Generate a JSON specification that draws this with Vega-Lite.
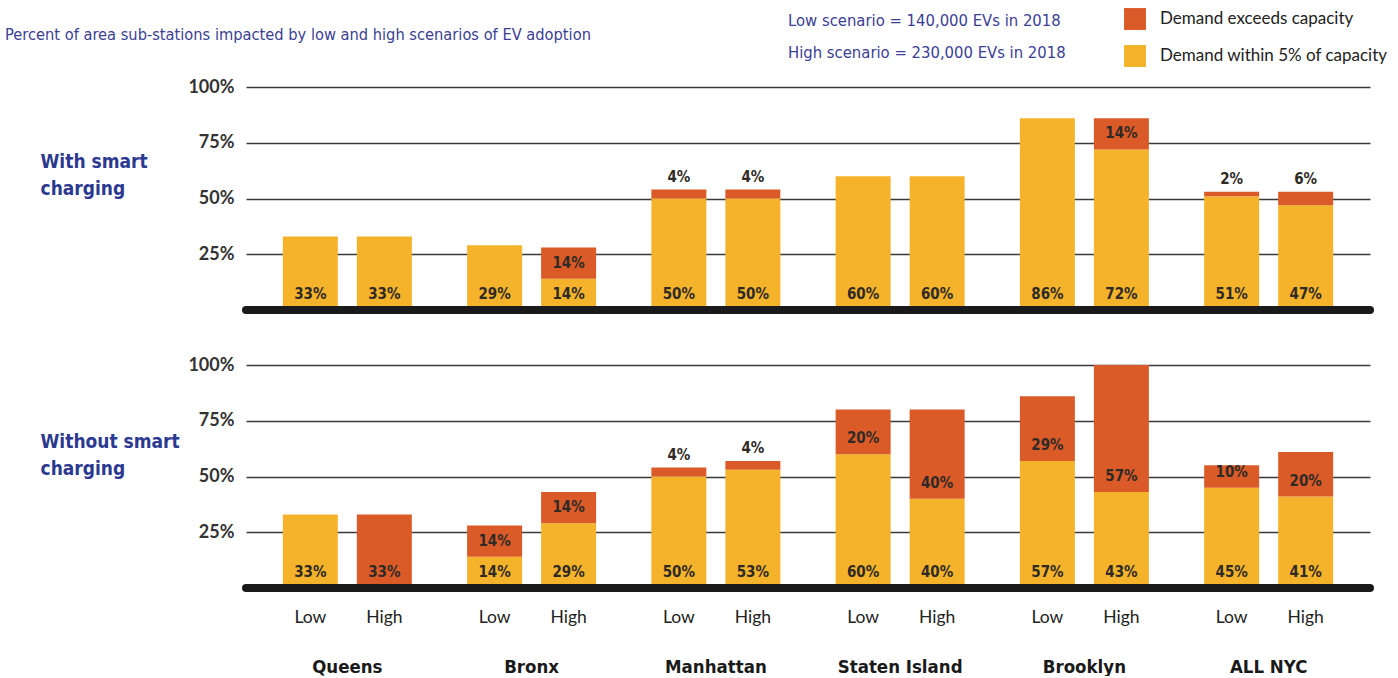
{
  "$schema": "https://vega.github.io/schema/vega-lite/v6.json",
  "padding": {"left": 5, "top": 8, "right": 0, "bottom": 0},
  "autosize": {"type": "pad"},
  "config": {
    "view": {"stroke": null},
    "font": "Lato"
  },
  "bounds": "flush",
  "spacing": 55,
  "datasets": {
    "rows": [
      {"panel": "with", "borough": "Queens", "scenario": "Low", "within": 0.33, "exceeds": 0},
      {"panel": "with", "borough": "Queens", "scenario": "High", "within": 0.33, "exceeds": 0},
      {"panel": "with", "borough": "Bronx", "scenario": "Low", "within": 0.29, "exceeds": 0},
      {"panel": "with", "borough": "Bronx", "scenario": "High", "within": 0.14, "exceeds": 0.14},
      {"panel": "with", "borough": "Manhattan", "scenario": "Low", "within": 0.50, "exceeds": 0.04},
      {"panel": "with", "borough": "Manhattan", "scenario": "High", "within": 0.50, "exceeds": 0.04},
      {"panel": "with", "borough": "Staten Island", "scenario": "Low", "within": 0.60, "exceeds": 0},
      {"panel": "with", "borough": "Staten Island", "scenario": "High", "within": 0.60, "exceeds": 0},
      {"panel": "with", "borough": "Brooklyn", "scenario": "Low", "within": 0.86, "exceeds": 0},
      {"panel": "with", "borough": "Brooklyn", "scenario": "High", "within": 0.72, "exceeds": 0.14},
      {"panel": "with", "borough": "ALL NYC", "scenario": "Low", "within": 0.51, "exceeds": 0.02},
      {"panel": "with", "borough": "ALL NYC", "scenario": "High", "within": 0.47, "exceeds": 0.06},
      {"panel": "without", "borough": "Queens", "scenario": "Low", "within": 0.33, "exceeds": 0},
      {"panel": "without", "borough": "Queens", "scenario": "High", "within": 0, "exceeds": 0.33},
      {"panel": "without", "borough": "Bronx", "scenario": "Low", "within": 0.14, "exceeds": 0.14},
      {"panel": "without", "borough": "Bronx", "scenario": "High", "within": 0.29, "exceeds": 0.14},
      {"panel": "without", "borough": "Manhattan", "scenario": "Low", "within": 0.50, "exceeds": 0.04},
      {"panel": "without", "borough": "Manhattan", "scenario": "High", "within": 0.53, "exceeds": 0.04},
      {"panel": "without", "borough": "Staten Island", "scenario": "Low", "within": 0.60, "exceeds": 0.20},
      {"panel": "without", "borough": "Staten Island", "scenario": "High", "within": 0.40, "exceeds": 0.40},
      {"panel": "without", "borough": "Brooklyn", "scenario": "Low", "within": 0.57, "exceeds": 0.29},
      {"panel": "without", "borough": "Brooklyn", "scenario": "High", "within": 0.43, "exceeds": 0.57},
      {"panel": "without", "borough": "ALL NYC", "scenario": "Low", "within": 0.45, "exceeds": 0.10},
      {"panel": "without", "borough": "ALL NYC", "scenario": "High", "within": 0.41, "exceeds": 0.20}
    ]
  },
  "vconcat": [
    {
      "title": {
        "text": "Percent of area sub-stations impacted by low and high scenarios of EV adoption",
        "anchor": "start", "frame": "group", "dx": -241, "offset": 35,
        "font": "Liberation Sans Narrow, DejaVu Sans Condensed, Liberation Sans",
        "fontSize": 16.3, "fontWeight": "normal", "color": "#3B4094"
      },
      "width": 1124, "height": 223,
      "data": {"name": "rows"},
      "transform": [
        {"filter": "datum.panel == 'with'"},
        {"fold": ["within", "exceeds"], "as": ["key", "pct"]},
        {"stack": "pct", "groupby": ["panel", "borough", "scenario"], "sort": [{"field": "key", "order": "descending"}], "as": ["v0", "v1"]}
      ],
      "layer": [
        {
          "mark": {"type": "bar"},
          "encoding": {
            "x": {"field": "borough", "type": "nominal", "sort": ["Queens", "Bronx", "Manhattan", "Staten Island", "Brooklyn", "ALL NYC"], "scale": {"paddingInner": 0.3, "paddingOuter": 0.2}, "axis": null},
            "xOffset": {"field": "scenario", "type": "nominal", "sort": ["Low", "High"], "scale": {"paddingInner": 0.257}},
            "y": {"field": "v1", "type": "quantitative", "scale": {"domain": [0, 1], "nice": false},
              "axis": {"values": [0.25, 0.5, 0.75, 1], "format": ".0%", "domain": false, "ticks": false, "grid": true, "gridColor": "#3a3a3a", "gridWidth": 1.4,
                "labelFont": "Lato", "labelFontWeight": "bold", "labelFontSize": 18, "labelColor": "#333333", "labelPadding": 12,
                "title": ["With smart", "charging"], "titleAngle": 0, "titleAlign": "left", "titleBaseline": "top", "titleX": -206, "titleY": 65,
                "titleFont": "Liberation Sans Narrow, DejaVu Sans Condensed, Liberation Sans", "titleFontSize": 19, "titleFontWeight": "bold", "titleColor": "#2B3990", "titleLineHeight": 27}},
            "y2": {"field": "v0"},
            "color": {"field": "key", "type": "nominal",
              "scale": {"domain": ["exceeds", "within"], "range": ["#DB5B28", "#F4B32A"]},
              "legend": {
                "orient": "none", "legendX": 542, "legendY": -79,
                "title": ["Low scenario = 140,000 EVs in 2018", "High scenario = 230,000 EVs in 2018"],
                "titleOrient": "left", "titlePadding": 58, "titleLimit": 600,
                "titleFont": "Liberation Sans Narrow, DejaVu Sans Condensed, Liberation Sans", "titleFontSize": 16.5, "titleFontWeight": "normal", "titleColor": "#3B4094", "titleLineHeight": 32,
                "symbolType": "square", "symbolSize": 480, "symbolStrokeWidth": 0,
                "labelFont": "Lato", "labelFontSize": 17, "labelColor": "#222222", "labelOffset": 14, "rowPadding": 15, "labelLimit": 600,
                "labelExpr": "datum.label == 'exceeds' ? 'Demand exceeds capacity' : 'Demand within 5% of capacity'"
              }}
          }
        },
        {
          "data": {"values": [{}]},
          "mark": {"type": "rule", "strokeWidth": 8, "strokeCap": "round", "color": "#1a1a1a"},
          "encoding": {"y": {"datum": 0}}
        },
        {
          "transform": [{"filter": "datum.pct >= 0.1"}],
          "mark": {"type": "text", "baseline": "middle", "dy": -16, "font": "Liberation Sans Narrow, DejaVu Sans Condensed, Liberation Sans", "fontWeight": "bold", "fontSize": 15, "color": "#2f2a26"},
          "encoding": {
            "x": {"field": "borough", "type": "nominal", "sort": ["Queens", "Bronx", "Manhattan", "Staten Island", "Brooklyn", "ALL NYC"]},
            "xOffset": {"field": "scenario", "type": "nominal", "sort": ["Low", "High"]},
            "y": {"field": "v0", "type": "quantitative"},
            "text": {"field": "pct", "type": "quantitative", "format": ".0%"}
          }
        },
        {
          "transform": [{"filter": "datum.pct > 0 && datum.pct < 0.1"}],
          "mark": {"type": "text", "baseline": "middle", "dy": -13, "font": "Liberation Sans Narrow, DejaVu Sans Condensed, Liberation Sans", "fontWeight": "bold", "fontSize": 15, "color": "#2f2a26"},
          "encoding": {
            "x": {"field": "borough", "type": "nominal", "sort": ["Queens", "Bronx", "Manhattan", "Staten Island", "Brooklyn", "ALL NYC"]},
            "xOffset": {"field": "scenario", "type": "nominal", "sort": ["Low", "High"]},
            "y": {"field": "v1", "type": "quantitative"},
            "text": {"field": "pct", "type": "quantitative", "format": ".0%"}
          }
        }
      ]
    },
    {
      "width": 1124, "height": 223,
      "data": {"name": "rows"},
      "transform": [
        {"filter": "datum.panel == 'without'"},
        {"fold": ["within", "exceeds"], "as": ["key", "pct"]},
        {"stack": "pct", "groupby": ["panel", "borough", "scenario"], "sort": [{"field": "key", "order": "descending"}], "as": ["v0", "v1"]}
      ],
      "layer": [
        {
          "mark": {"type": "bar"},
          "encoding": {
            "x": {"field": "borough", "type": "nominal", "sort": ["Queens", "Bronx", "Manhattan", "Staten Island", "Brooklyn", "ALL NYC"], "scale": {"paddingInner": 0.3, "paddingOuter": 0.2},
              "axis": {"title": null, "domain": false, "ticks": false, "labelAngle": 0, "labelPadding": 69, "labelFont": "Liberation Sans Narrow, DejaVu Sans Condensed, Liberation Sans", "labelFontWeight": "bold", "labelFontSize": 18.5, "labelColor": "#1a1a1a"}},
            "xOffset": {"field": "scenario", "type": "nominal", "sort": ["Low", "High"], "scale": {"paddingInner": 0.257}},
            "y": {"field": "v1", "type": "quantitative", "scale": {"domain": [0, 1], "nice": false},
              "axis": {"values": [0.25, 0.5, 0.75, 1], "format": ".0%", "domain": false, "ticks": false, "grid": true, "gridColor": "#3a3a3a", "gridWidth": 1.4,
                "labelFont": "Lato", "labelFontWeight": "bold", "labelFontSize": 18, "labelColor": "#333333", "labelPadding": 12,
                "title": ["Without smart", "charging"], "titleAngle": 0, "titleAlign": "left", "titleBaseline": "top", "titleX": -206, "titleY": 67,
                "titleFont": "Liberation Sans Narrow, DejaVu Sans Condensed, Liberation Sans", "titleFontSize": 19, "titleFontWeight": "bold", "titleColor": "#2B3990", "titleLineHeight": 27}},
            "y2": {"field": "v0"},
            "color": {"field": "key", "type": "nominal", "scale": {"domain": ["exceeds", "within"], "range": ["#DB5B28", "#F4B32A"]}}
          }
        },
        {
          "data": {"values": [{}]},
          "mark": {"type": "rule", "strokeWidth": 8, "strokeCap": "round", "color": "#1a1a1a"},
          "encoding": {"y": {"datum": 0}}
        },
        {
          "transform": [{"filter": "datum.pct >= 0.1"}],
          "mark": {"type": "text", "baseline": "middle", "dy": -16, "font": "Liberation Sans Narrow, DejaVu Sans Condensed, Liberation Sans", "fontWeight": "bold", "fontSize": 15, "color": "#2f2a26"},
          "encoding": {
            "x": {"field": "borough", "type": "nominal", "sort": ["Queens", "Bronx", "Manhattan", "Staten Island", "Brooklyn", "ALL NYC"]},
            "xOffset": {"field": "scenario", "type": "nominal", "sort": ["Low", "High"]},
            "y": {"field": "v0", "type": "quantitative"},
            "text": {"field": "pct", "type": "quantitative", "format": ".0%"}
          }
        },
        {
          "transform": [{"filter": "datum.pct > 0 && datum.pct < 0.1"}],
          "mark": {"type": "text", "baseline": "middle", "dy": -13, "font": "Liberation Sans Narrow, DejaVu Sans Condensed, Liberation Sans", "fontWeight": "bold", "fontSize": 15, "color": "#2f2a26"},
          "encoding": {
            "x": {"field": "borough", "type": "nominal", "sort": ["Queens", "Bronx", "Manhattan", "Staten Island", "Brooklyn", "ALL NYC"]},
            "xOffset": {"field": "scenario", "type": "nominal", "sort": ["Low", "High"]},
            "y": {"field": "v1", "type": "quantitative"},
            "text": {"field": "pct", "type": "quantitative", "format": ".0%"}
          }
        },
        {
          "transform": [{"filter": "datum.key == 'within'"}],
          "mark": {"type": "text", "baseline": "middle", "dy": 30, "font": "Lato", "fontSize": 17.5, "color": "#222222"},
          "encoding": {
            "x": {"field": "borough", "type": "nominal", "sort": ["Queens", "Bronx", "Manhattan", "Staten Island", "Brooklyn", "ALL NYC"]},
            "xOffset": {"field": "scenario", "type": "nominal", "sort": ["Low", "High"]},
            "y": {"datum": 0},
            "text": {"field": "scenario", "type": "nominal"}
          }
        }
      ]
    }
  ]
}
